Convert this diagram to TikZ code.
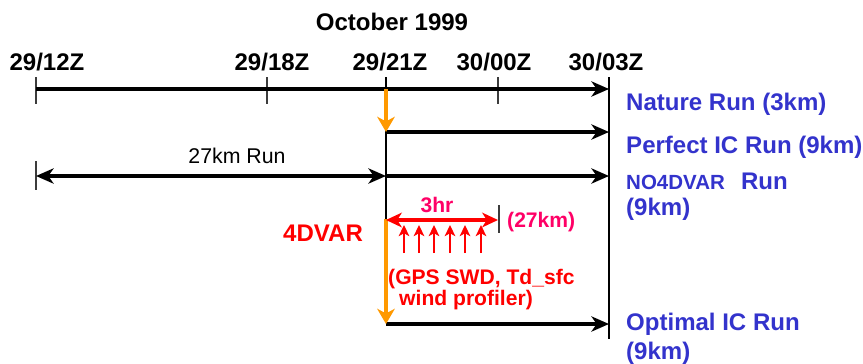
\documentclass[tikz,border=0pt]{standalone}
\usepackage{fontspec}
\setmainfont{Liberation Sans}
\usetikzlibrary{arrows.meta}
\definecolor{runblue}{RGB}{51,51,204}
\definecolor{obspink}{RGB}{255,0,102}
\definecolor{varred}{RGB}{255,0,0}
\definecolor{varorange}{RGB}{255,153,0}
\definecolor{tickgray}{RGB}{60,60,60}
\tikzset{
  timelab/.style={font=\fontsize{20.5}{24}\selectfont\bfseries, anchor=base, inner sep=0pt},
  runlab/.style={font=\fontsize{20.5}{24}\selectfont\bfseries, text=runblue, anchor=base west, inner sep=0pt},
  smalllab/.style={font=\fontsize{18}{20}\selectfont\bfseries, inner sep=0pt},
  runline/.style={line width=3.3pt, -{Stealth[length=15pt,width=13pt,inset=4.5pt]}},
  tickmark/.style={line width=1.2pt, tickgray},
  thinline/.style={line width=0.9pt},
  assim/.style={line width=3.2pt, varorange, -{Stealth[length=13pt,width=15pt,inset=4pt]}},
  window/.style={line width=3.3pt, varred, {Stealth[length=13.5pt,width=12.5pt,inset=4pt]}-{Stealth[length=13.5pt,width=12.5pt,inset=4pt]}},
  obsarrow/.style={line width=2.4pt, varred, -{Stealth[length=9.5pt,width=9pt,inset=2.5pt]}}
}
\begin{document}
\begin{tikzpicture}[x={(0.03cm,0)}, y={(0,-0.03cm)}]
\useasboundingbox (0,0) rectangle (863,364);
% time axis labels
\node[timelab] (month) at (392,30) {October 1999};
\node[timelab] (l12) at (47,70) {29/12Z};
\node[timelab] (l18) at (272,70) {29/18Z};
\node[timelab] (l21) at (390,70) {29/21Z};
\node[timelab] (l00) at (494,70) {30/00Z};
\node[timelab] (l03) at (606,70) {30/03Z};
% ticks and guide lines
\draw[tickmark] (36,77) -- (36,104);
\draw[tickmark] (267,77) -- (267,104);
\draw[tickmark] (498,77) -- (498,104);
\draw[thinline] (386,77) -- (386,219);
\draw[thinline] (609,77) -- (609,339);
\draw[tickmark] (36,161) -- (36,190);
\draw[tickmark] (499,205) -- (499,233);
% runs
\coordinate (nrS) at (36,89);
\coordinate (nrE) at (609,89);
\coordinate (icS) at (386,132);
\coordinate (icE) at (609,132);
\coordinate (csS) at (36,176);
\coordinate (csM) at (386,176);
\coordinate (csE) at (609,176);
\coordinate (opS) at (386,324);
\coordinate (opE) at (609,324);
\draw[runline] (nrS) -- (nrE);
\draw[runline] (icS) -- (icE);
\draw[runline, {Stealth[length=15pt,width=13pt,inset=4.5pt]}-{Stealth[length=15pt,width=13pt,inset=4.5pt]}] (csS) -- (csM);
\draw[runline] (csM) -- (csE);
\draw[runline] (opS) -- (opE);
% 4dvar window
\coordinate (v21) at (386,89);
\coordinate (vS) at (386,219);
\coordinate (wE) at (498,220);
\draw[assim] (v21) -- (icS);
\draw[assim] (vS) -- (opS);
\draw[window] (386,220) -- (wE);
\draw[obsarrow] (404,253) -- (404,225);
\draw[obsarrow] (419,253) -- (419,225);
\draw[obsarrow] (434,253) -- (434,225);
\draw[obsarrow] (450,253) -- (450,225);
\draw[obsarrow] (465,253) -- (465,225);
\draw[obsarrow] (481,253) -- (481,225);
% labels
\node[font=\fontsize{18.2}{20}\selectfont, anchor=base, inner sep=0pt] (cslab) at (237,163) {27km Run};
\node[smalllab, text=obspink, anchor=base] (hrlab) at (437,212) {3hr};
\node[smalllab, text=obspink, anchor=base west] (kmlab) at (507,227) {(27km)};
\node[timelab, text=varred, anchor=base west] (varlab) at (283,241) {4DVAR};
\node[smalllab, text=varred, anchor=base west] (obs1) at (388,284) {(GPS SWD, Td\_sfc};
\node[smalllab, text=varred, anchor=base west] (obs2) at (399,305) {wind profiler)};
\node[runlab] (nature) at (626,110) {Nature Run (3km)};
\node[runlab] (perfect) at (626,153) {Perfect IC Run (9km)};
\node[runlab] (novar) at (626,189) {{\fontsize{17.5}{20}\selectfont NO4DVAR}\hspace{13.7pt}Run};
\node[runlab] (novar2) at (626,215) {(9km)};
\node[runlab] (optimal) at (626,330) {Optimal IC Run};
\node[runlab] (optimal2) at (626,359) {(9km)};
\end{tikzpicture}
\end{document}
